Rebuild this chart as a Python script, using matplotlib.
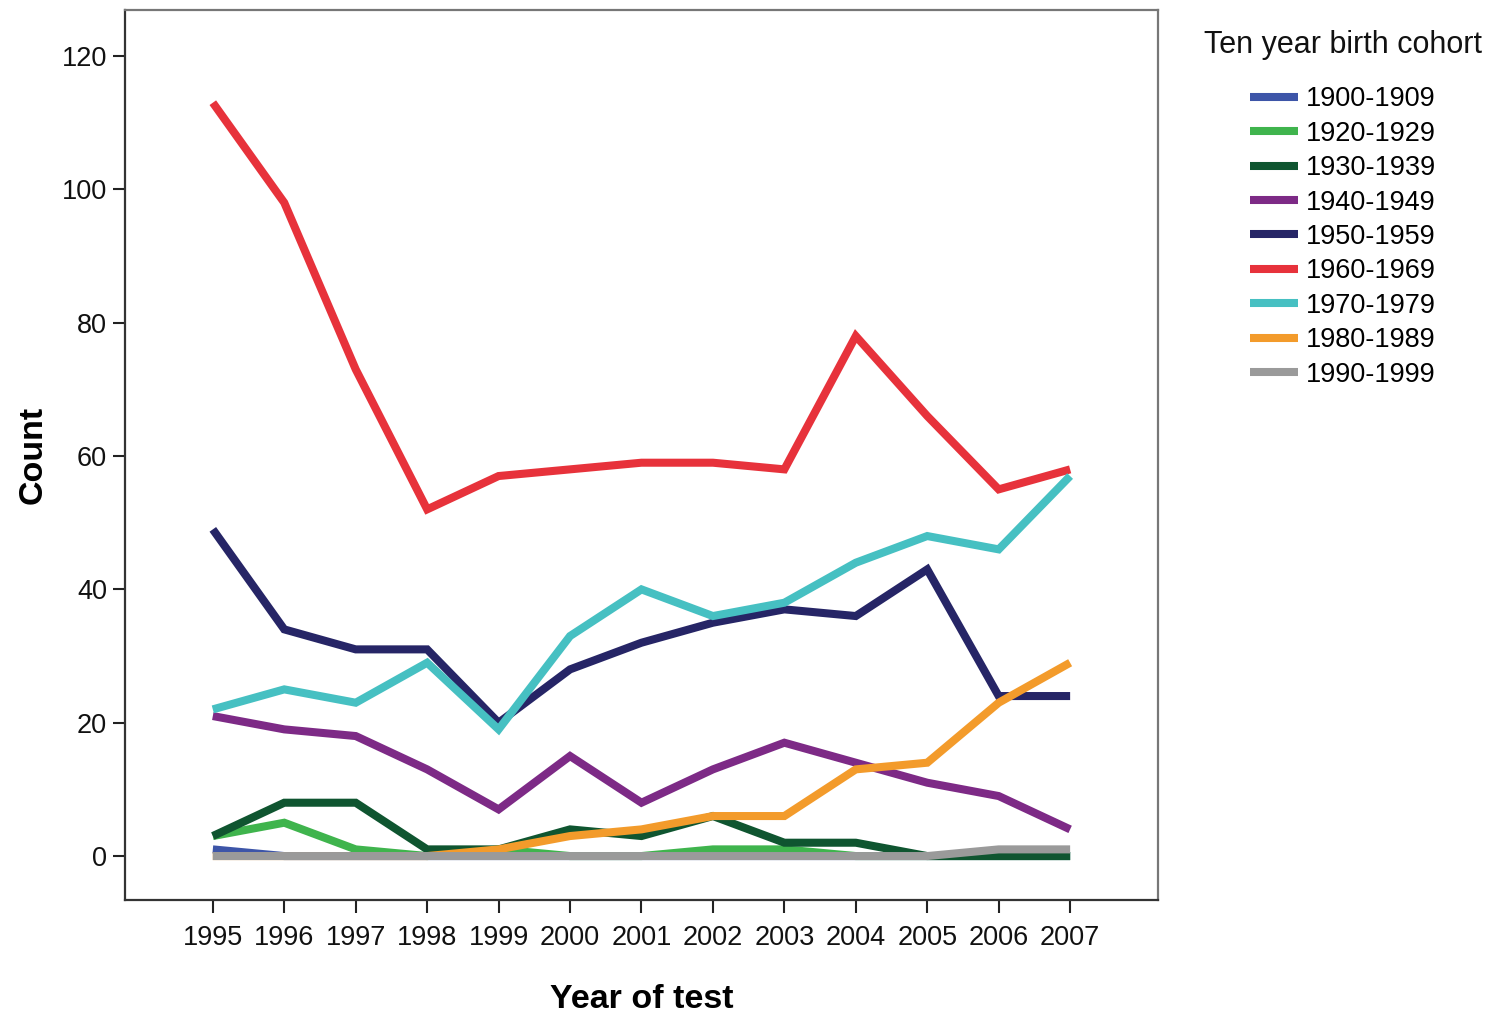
import matplotlib
matplotlib.use("Agg")
import matplotlib.pyplot as plt

plt.rcParams['font.family'] = ['Liberation Sans', 'DejaVu Sans']

years = [1995, 1996, 1997, 1998, 1999, 2000, 2001, 2002, 2003, 2004, 2005, 2006, 2007]
cohorts = ["1900-1909", "1920-1929", "1930-1939", "1940-1949", "1950-1959",
           "1960-1969", "1970-1979", "1980-1989", "1990-1999"]

c1900 = [1, 0, 0, 0, 0, 0, 0, 0, 0, 0, 0, 0, 0]
c1920 = [3, 5, 1, 0, 1, 0, 0, 1, 1, 0, 0, 0, 0]
c1930 = [3, 8, 8, 1, 1, 4, 3, 6, 2, 2, 0, 0, 0]
c1940 = [21, 19, 18, 13, 7, 15, 8, 13, 17, 14, 11, 9, 4]
c1950 = [49, 34, 31, 31, 20, 28, 32, 35, 37, 36, 43, 24, 24]
c1960 = [113, 98, 73, 52, 57, 58, 59, 59, 58, 78, 66, 55, 58]
c1970 = [22, 25, 23, 29, 19, 33, 40, 36, 38, 44, 48, 46, 57]
c1980 = [0, 0, 0, 0, 1, 3, 4, 6, 6, 13, 14, 23, 29]
c1990 = [0, 0, 0, 0, 0, 0, 0, 0, 0, 0, 0, 1, 1]

series = [c1900, c1920, c1930, c1940, c1950, c1960, c1970, c1980, c1990]
colors = ["#3d55a8", "#3fb44d", "#0f5530", "#7d2a86", "#262566",
          "#e7323b", "#46c0c2", "#f39b2b", "#9a9a9a"]

fig = plt.figure(figsize=(15.09, 10.13), dpi=100)
ax = fig.add_axes([0.0828, 0.1115, 0.6846, 0.8786])

for vals, col, lab in zip(series, colors, cohorts):
    ax.plot(years, vals, color=col, lw=5.8, label=lab, solid_joinstyle='miter',
            solid_capstyle='butt')

ax.set_xlim(1993.77, 2008.23)
ax.set_ylim(-6.6, 126.9)
ax.set_xticks(years)
ax.set_xticklabels([str(y) for y in years])
ax.set_yticks([0, 20, 40, 60, 80, 100, 120])
ax.tick_params(axis='both', direction='out', length=9, width=1.5, colors='#222222',
               labelsize=19.5, labelcolor='#111111')
ax.tick_params(axis='y', pad=4)
ax.tick_params(axis='x', pad=9)

for s in ['left', 'bottom']:
    ax.spines[s].set_color('#333333')
    ax.spines[s].set_linewidth(1.6)
for s in ['top', 'right']:
    ax.spines[s].set_color('#777777')
    ax.spines[s].set_linewidth(1.6)

ax.set_xlabel("Year of test", fontsize=24.5, fontweight='bold', labelpad=24)
ax.set_ylabel("Count", fontsize=24.5, fontweight='bold', labelpad=9)

fig.text(1343 / 1509, 1 - 45 / 1013, "Ten year birth cohort", ha='center', va='center',
         fontsize=22, color='#111111')
leg = fig.legend(loc='upper center', bbox_to_anchor=(1343 / 1509, 1 - 62 / 1013),
                 frameon=False, fontsize=19.5,
                 handlelength=1.75, handletextpad=0.3, labelspacing=0.31)
for h in leg.get_lines():
    h.set_linewidth(5.8)

fig.savefig("out.png", dpi=100, facecolor='white')
